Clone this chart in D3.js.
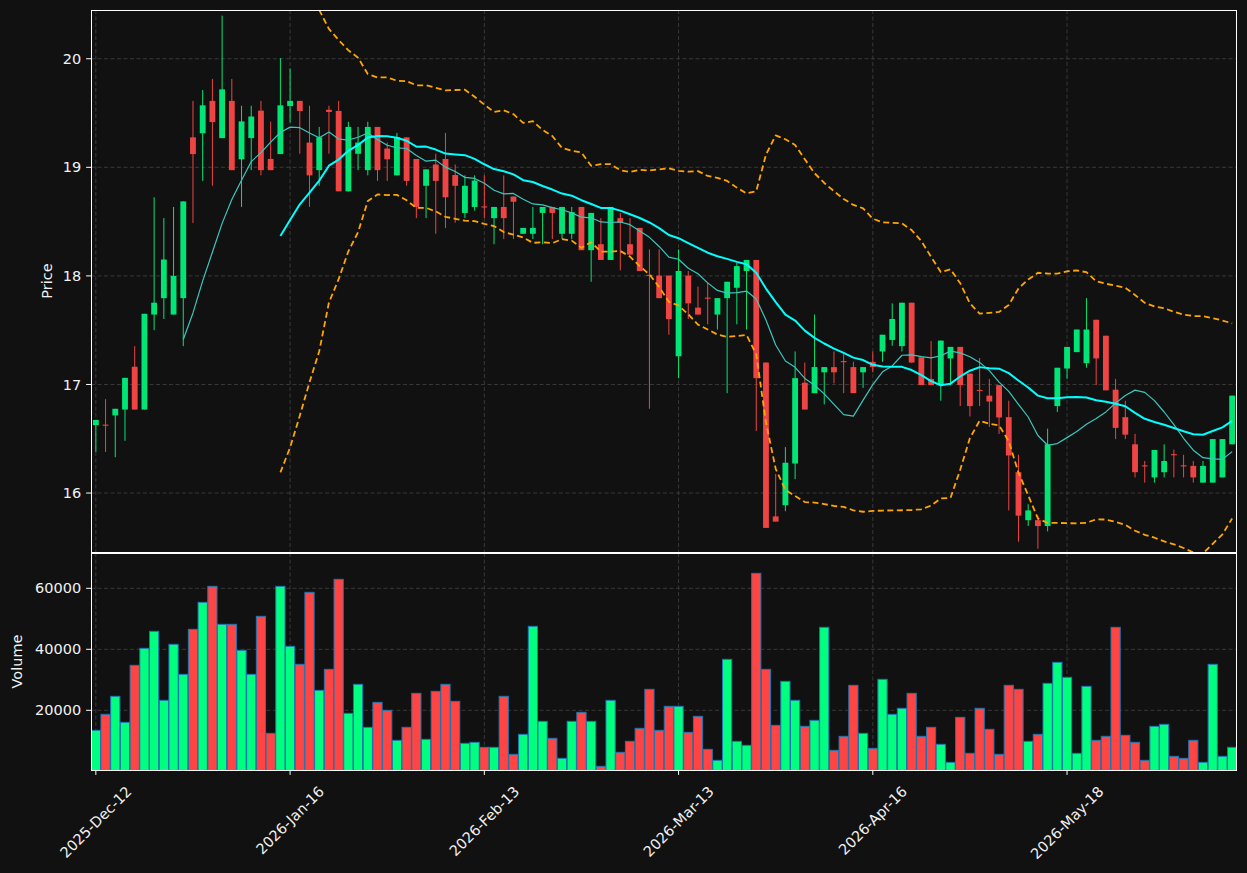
<!DOCTYPE html>
<html>
<head>
<meta charset="utf-8">
<script src="https://cdn.jsdelivr.net/npm/d3@7"></script>
<style>
  body { margin: 0; background: #111111; }
  svg { display: block; font-family: "DejaVu Sans", sans-serif; }
</style>
</head>
<body>
<div id="chart"></div>
<script>
// candle data (one entry per trading day)
let opens = [16.625,16.63,16.715,16.769,17.163,16.769,17.644,17.795,17.644,17.795,
  19.276,19.314,19.612,19.269,19.612,19.074,19.269,19.522,19.077,19.122,
  19.564,19.612,19.228,18.974,19.53,19.519,18.779,19.125,18.974,19.372,
  19.173,18.926,19.276,19.077,18.83,19.026,19.077,18.929,18.58,18.635,
  18.64,18.532,18.635,18.731,18.388,18.388,18.58,18.635,18.388,18.388,
  18.635,18.237,18.292,18.147,18.532,18.292,18.442,18.01,18.003,18.003,
  17.26,18.003,17.708,17.8,17.644,17.795,17.891,18.045,18.147,17.202,
  15.785,15.888,16.272,17.016,16.92,17.112,17.16,17.215,17.16,17.112,
  17.208,17.304,17.41,17.353,17.753,17.25,17.051,16.994,17.24,17.346,
  17.1,16.95,16.897,16.994,16.699,16.192,15.75,15.75,15.696,16.801,
  17.147,17.298,17.196,17.596,17.449,16.952,16.699,16.449,16.255,16.144,
  16.192,16.358,16.255,16.25,16.096,16.096,16.144,16.449];
let highs = [16.673,16.865,16.776,17.061,17.353,17.651,18.724,18.532,18.635,18.686,
  19.612,19.712,19.814,20.397,19.814,19.567,19.567,19.612,19.42,20.006,
  19.91,19.612,19.567,19.372,19.567,19.612,19.42,19.372,19.42,19.372,
  19.228,19.317,19.276,19.077,18.981,19.125,19.317,19.026,18.926,18.926,
  18.926,18.635,18.926,18.731,18.442,18.635,18.635,18.635,18.635,18.635,
  18.635,18.58,18.532,18.635,18.58,18.532,18.442,18.244,18.244,18.003,
  18.244,18.045,17.901,17.939,17.795,17.946,18.122,18.147,18.147,17.202,
  16.176,16.423,17.304,17.202,17.644,17.16,17.304,17.28,17.21,17.16,
  17.304,17.458,17.747,17.753,17.753,17.25,17.4,17.404,17.346,17.346,
  17.1,17.244,17.051,16.994,16.85,16.353,15.897,15.792,16.593,17.154,
  17.346,17.506,17.795,17.596,17.449,17.051,16.85,16.545,16.295,16.397,
  16.449,16.4,16.353,16.295,16.295,16.497,16.497,16.897];
let lows = [16.378,16.378,16.33,16.481,16.769,16.769,17.5,17.603,17.644,17.353,
  18.487,18.875,18.83,19.269,18.974,18.635,18.974,18.926,18.974,19.122,
  19.413,19.125,18.635,18.83,19.125,18.779,18.779,18.974,18.926,18.875,
  18.875,18.926,18.83,18.532,18.532,18.388,18.442,18.49,18.532,18.6,
  18.532,18.292,18.34,18.34,18.388,18.34,18.292,18.34,18.34,18.34,
  18.237,17.946,18.147,18.147,18.051,18.196,18.045,16.776,17.795,17.458,
  17.058,17.603,17.644,17.554,17.506,16.92,17.554,17.506,16.571,15.679,
  15.737,15.833,16.128,16.769,16.92,16.817,17.01,16.92,16.92,16.968,
  17.112,17.208,17.356,17.304,17.202,16.994,16.994,16.85,16.994,16.801,
  16.705,16.801,16.609,16.545,15.84,15.551,15.696,15.487,15.647,16.747,
  17.051,17.298,17.154,16.994,16.946,16.497,16.497,16.144,16.096,16.096,
  16.144,16.144,16.144,16.096,16.096,16.096,16.144,16.449];
let closes = [16.673,16.62,16.776,17.061,16.769,17.651,17.753,18.151,18.0,18.686,
  19.122,19.571,19.417,19.718,18.974,19.423,19.468,18.974,18.974,19.571,
  19.612,19.519,18.926,19.276,19.51,18.779,19.372,19.228,19.372,18.974,
  19.074,19.276,18.875,18.635,18.981,18.875,18.724,18.83,18.83,18.878,
  18.63,18.635,18.532,18.683,18.442,18.442,18.635,18.58,18.635,18.587,
  18.237,18.58,18.147,18.635,18.49,18.196,18.045,18.0,17.795,17.603,
  18.045,17.747,17.644,17.79,17.795,17.946,18.09,18.147,17.058,15.679,
  15.737,16.279,17.058,16.769,17.16,17.16,17.112,17.205,16.92,17.16,
  17.16,17.458,17.603,17.753,17.202,16.994,16.994,17.404,17.346,16.994,
  16.801,16.942,16.843,16.696,16.346,15.792,15.84,15.696,16.449,17.154,
  17.346,17.506,17.506,17.24,16.946,16.6,16.538,16.192,16.245,16.397,
  16.295,16.348,16.245,16.144,16.25,16.497,16.497,16.897];
let volumes = [13433,18678,24580,16055,34744,40318,45892,23269,41630,31793,
  46548,55400,60646,48187,48187,39662,31793,50810,12449,60646,
  40974,35072,58678,26548,33433,62941,19007,28515,14416,22613,
  19990,10154,14416,25564,10482,26220,28515,22941,9170,9498,
  7859,7859,24580,5564,12121,47531,16384,10810,4252,16384,
  19334,16384,1629,23269,6220,9826,14088,26876,13433,21302,
  21302,12777,18023,7203,3597,36711,9826,8515,64909,33433,
  15072,29498,23269,14744,16712,47203,6875,11466,28187,12449,
  7531,30154,18678,20646,25564,11466,14416,8843,2941,17695,
  5892,20646,13761,5564,28187,26876,9826,12121,28843,35728,
  30810,5892,27859,10154,11466,47203,11794,9498,3597,14744,
  15400,4908,4252,10154,2941,35072,4908,7859];

let tickIndex = [0, 20, 40, 60, 80, 100];
let tickLabels = ["2025-Dec-12","2026-Jan-16","2026-Feb-13","2026-Mar-13","2026-Apr-16","2026-May-18"];
let priceTicks = [16, 17, 18, 19, 20];
let volumeTicks = [20000, 40000, 60000];

let width = 1247, height = 873;
let left = 91, right = 1237;
let pTop = 10, pBottom = 552, vTop = 553, vBottom = 770;
let n = closes.length;

let upCandle = "#00e676", downCandle = "#ef4444";
let upVol = "#00ff7f", downVol = "#ff4444";
let textColor = "#f2f2f2";
let fontSize = 14.5;

let xScale = d3.scaleLinear().domain([-0.5, n - 0.5]).range([left, right]);
let step = xScale(1) - xScale(0);
let yPrice = d3.scaleLinear().domain([15.457, 20.449]).range([pBottom, pTop]);
let yVol = d3.scaleLinear().domain([426, 71574]).range([vBottom, vTop]);

// rolling mean / bands from the closes
function rolling(arr, w, fn) {
  return arr.map((d, i) => i < w - 1 ? null : fn(arr.slice(i - w + 1, i + 1)));
}
let ma10 = rolling(closes, 10, d3.mean);
let ma20 = rolling(closes, 20, d3.mean);
let sd20 = rolling(closes, 20, s => { let m = d3.mean(s); return Math.sqrt(d3.mean(s, v => (v - m) * (v - m))); });
let upperBand = ma20.map((m, i) => m == null ? null : m + 2 * sd20[i]);
let lowerBand = ma20.map((m, i) => m == null ? null : m - 2 * sd20[i]);

let svg = d3.select("#chart").append("svg")
  .attr("width", width).attr("height", height)
  .style("background-color", "#111111");

let defs = svg.append("defs");
defs.append("clipPath").attr("id", "clipPrice").append("rect")
  .attr("x", left).attr("y", pTop).attr("width", right - left).attr("height", pBottom - pTop);
defs.append("clipPath").attr("id", "clipVol").append("rect")
  .attr("x", left).attr("y", vTop).attr("width", right - left).attr("height", vBottom - vTop);

// grids
let grid = svg.append("g").attr("stroke", "#3d3d3d").attr("stroke-width", 0.9).attr("stroke-dasharray", "4,2.5");
priceTicks.forEach(t => grid.append("line").attr("x1", left).attr("x2", right).attr("y1", yPrice(t)).attr("y2", yPrice(t)));
volumeTicks.forEach(t => grid.append("line").attr("x1", left).attr("x2", right).attr("y1", yVol(t)).attr("y2", yVol(t)));
tickIndex.forEach(t => {
  grid.append("line").attr("x1", xScale(t)).attr("x2", xScale(t)).attr("y1", pTop).attr("y2", pBottom);
  grid.append("line").attr("x1", xScale(t)).attr("x2", xScale(t)).attr("y1", vTop).attr("y2", vBottom);
});

// candles
let candleGroup = svg.append("g").attr("clip-path", "url(#clipPrice)");
let idx = d3.range(n);
let bodyW = step * 0.6;
candleGroup.selectAll(".wick").data(idx).enter().append("line")
  .attr("x1", i => xScale(i)).attr("x2", i => xScale(i))
  .attr("y1", i => yPrice(highs[i])).attr("y2", i => yPrice(lows[i]))
  .attr("stroke", i => closes[i] >= opens[i] ? upCandle : downCandle)
  .attr("stroke-width", 1);
candleGroup.selectAll(".body").data(idx).enter().append("rect")
  .attr("x", i => xScale(i) - bodyW / 2)
  .attr("width", bodyW)
  .attr("y", i => yPrice(Math.max(opens[i], closes[i])))
  .attr("height", i => Math.max(1, Math.abs(yPrice(opens[i]) - yPrice(closes[i]))))
  .attr("fill", i => closes[i] >= opens[i] ? upCandle : downCandle);

// overlays
function drawLine(vals, color, w, dash) {
  let line = d3.line().defined(d => d != null).x((d, i) => xScale(i)).y(d => yPrice(d));
  let p = candleGroup.append("path").datum(vals)
    .attr("d", line).attr("fill", "none")
    .attr("stroke", color).attr("stroke-width", w)
    .attr("stroke-linejoin", "round");
  if (dash) p.attr("stroke-dasharray", dash);
}
drawLine(upperBand, "#ffa500", 1.8, "6,3.5");
drawLine(lowerBand, "#ffa500", 1.8, "6,3.5");
drawLine(ma10, "#3cc7bd", 1.2);
drawLine(ma20, "#00ffff", 2);

// volume
let volGroup = svg.append("g").attr("clip-path", "url(#clipVol)");
let barW = step * 0.95;
volGroup.selectAll(".vol").data(idx).enter().append("rect")
  .attr("x", i => xScale(i) - barW / 2)
  .attr("width", barW)
  .attr("y", i => yVol(volumes[i]))
  .attr("height", i => yVol(0) - yVol(volumes[i]))
  .attr("fill", i => closes[i] >= opens[i] ? upVol : downVol)
  .attr("stroke", "#1f77b4").attr("stroke-width", 1);

// frames (half-pixel offset so the 1px border stays crisp)
svg.append("rect").attr("x", left + 0.5).attr("y", pTop + 0.5).attr("width", right - left - 1).attr("height", pBottom - pTop)
  .attr("fill", "none").attr("stroke", "#ffffff").attr("stroke-width", 1);
svg.append("rect").attr("x", left + 0.5).attr("y", vTop + 0.5).attr("width", right - left - 1).attr("height", vBottom - vTop)
  .attr("fill", "none").attr("stroke", "#ffffff").attr("stroke-width", 1);

// y ticks
let tickLen = 4.9, tickPad = 4.9;
function yTicks(ticks, scale, fmt) {
  ticks.forEach(t => {
    svg.append("line").attr("x1", left - tickLen).attr("x2", left).attr("y1", scale(t)).attr("y2", scale(t))
      .attr("stroke", "#ffffff").attr("stroke-width", 1);
    svg.append("text").attr("x", left - tickLen - tickPad).attr("y", scale(t)).attr("dy", "0.35em")
      .attr("text-anchor", "end").attr("font-size", fontSize).attr("fill", textColor).text(fmt(t));
  });
}
yTicks(priceTicks, yPrice, d3.format("d"));
yTicks(volumeTicks, yVol, d3.format("d"));

// x ticks, rotated 45 deg, bbox centred on the tick
tickIndex.forEach((t, k) => {
  let tx = xScale(t);
  svg.append("line").attr("x1", tx).attr("x2", tx).attr("y1", vBottom).attr("y2", vBottom + tickLen)
    .attr("stroke", "#ffffff").attr("stroke-width", 1);
  let label = svg.append("text").attr("text-anchor", "middle").attr("dy", "0.35em")
    .attr("font-size", fontSize).attr("fill", textColor).text(tickLabels[k]);
  let w = label.node().getComputedTextLength();
  let half = (w + 17) / Math.SQRT2 / 2;
  let cy = vBottom + tickLen + tickPad + 3 + half;
  label.attr("transform", "translate(" + tx + "," + cy + ") rotate(-45)");
});

// axis labels
svg.append("text").attr("transform", "translate(47," + ((pTop + pBottom) / 2) + ") rotate(-90)")
  .attr("text-anchor", "middle").attr("dy", "0.35em").attr("font-size", fontSize).attr("fill", textColor).text("Price");
svg.append("text").attr("transform", "translate(17," + ((vTop + vBottom) / 2) + ") rotate(-90)")
  .attr("text-anchor", "middle").attr("dy", "0.35em").attr("font-size", fontSize).attr("fill", textColor).text("Volume");
</script>
</body>
</html>
